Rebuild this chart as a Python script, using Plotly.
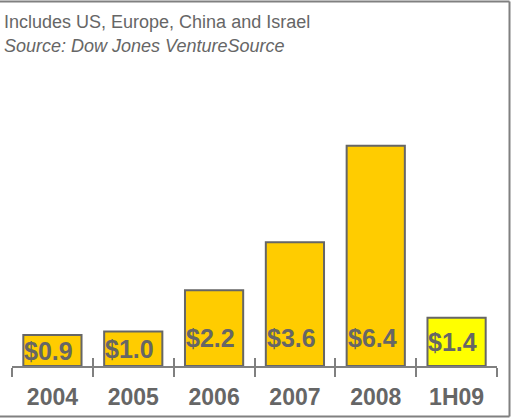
import plotly.graph_objects as go

# Venture investment totals, $ billions
years = ["2004", "2005", "2006", "2007", "2008", "1H09"]
values = [0.9, 1.0, 2.2, 3.6, 6.4, 1.4]
labels = ["$0.9", "$1.0", "$2.2", "$3.6", "$6.4", "$1.4"]
colors = ["#FFCC00", "#FFCC00", "#FFCC00", "#FFCC00", "#FFCC00", "#FFFF00"]

W, H = 511, 418
FONT = "Liberation Sans, Arial, sans-serif"
GREY = "#666666"
LINE = "#808080"
BAR_W = 0.72

fig = go.Figure()
fig.add_trace(go.Bar(
    x=years, y=values,
    marker=dict(color=colors, line=dict(color="#666666", width=2)),
    width=BAR_W,
    hoverinfo="skip",
))

# value labels start at the bar's left edge, near its base (centred in short bars)
for i, (v, lab) in enumerate(zip(values, labels)):
    fig.add_annotation(
        x=i - BAR_W / 2, y=min(0.8, v / 2), xref="x", yref="y",
        text=f"<b>{lab}</b>", showarrow=False,
        font=dict(family=FONT, size=25, color=GREY),
        xanchor="left", yanchor="middle", borderpad=0,
    )

# hidden overlay axis carries the upward half of the boundary ticks
fig.add_trace(go.Scatter(x=years, y=[None] * len(years), xaxis="x2",
                         showlegend=False, hoverinfo="skip"))

x_dom = [12 / W, 497 / W]
base_px = 366
fig.update_layout(
    width=W, height=H,
    margin=dict(l=0, r=0, t=0, b=0),
    paper_bgcolor="white", plot_bgcolor="white",
    showlegend=False,
    bargap=0.28,
    xaxis=dict(
        domain=x_dom, type="category", range=[-0.5, 5.5],
        showline=True, linecolor=LINE, linewidth=2,
        ticks="outside", tickson="boundaries", ticklen=9, tickwidth=2, tickcolor=LINE,
        showgrid=False, zeroline=False,
        tickfont=dict(family=FONT, size=23, color=GREY),
        tickprefix="<b>", ticksuffix="</b>",
        ticklabelstandoff=9,
    ),
    xaxis2=dict(
        domain=x_dom, type="category", range=[-0.5, 5.5],
        overlaying="x", anchor="y", side="bottom",
        showline=False, ticks="inside", tickson="boundaries", ticklen=8, tickwidth=2,
        tickcolor=LINE, showticklabels=False, showgrid=False, zeroline=False,
    ),
    yaxis=dict(
        domain=[(H - base_px) / H, 1], range=[0, base_px / 34.4],
        visible=False, showgrid=False, zeroline=False,
    ),
)

# chart frame: top, right and bottom rules
fig.add_shape(type="line", xref="paper", yref="paper", x0=0, x1=509.5 / W,
              y0=1 - 1.5 / H, y1=1 - 1.5 / H, line=dict(color=LINE, width=2))
fig.add_shape(type="line", xref="paper", yref="paper", x0=509.5 / W, x1=509.5 / W,
              y0=1.5 / H, y1=1 - 1.5 / H, line=dict(color=LINE, width=2))
fig.add_shape(type="line", xref="paper", yref="paper", x0=0, x1=509.5 / W,
              y0=1.5 / H, y1=1.5 / H, line=dict(color=LINE, width=2))

fig.add_annotation(
    xref="paper", yref="paper", x=2 / W, y=1 - 22 / H, xanchor="left", yanchor="middle",
    text="Includes US, Europe, China and Israel", showarrow=False,
    font=dict(family=FONT, size=18, color=GREY),
)
fig.add_annotation(
    xref="paper", yref="paper", x=2 / W, y=1 - 46 / H, xanchor="left", yanchor="middle",
    text="<i>Source: Dow Jones VentureSource</i>", showarrow=False,
    font=dict(family=FONT, size=18, color=GREY),
)

fig.write_html("out.html")
